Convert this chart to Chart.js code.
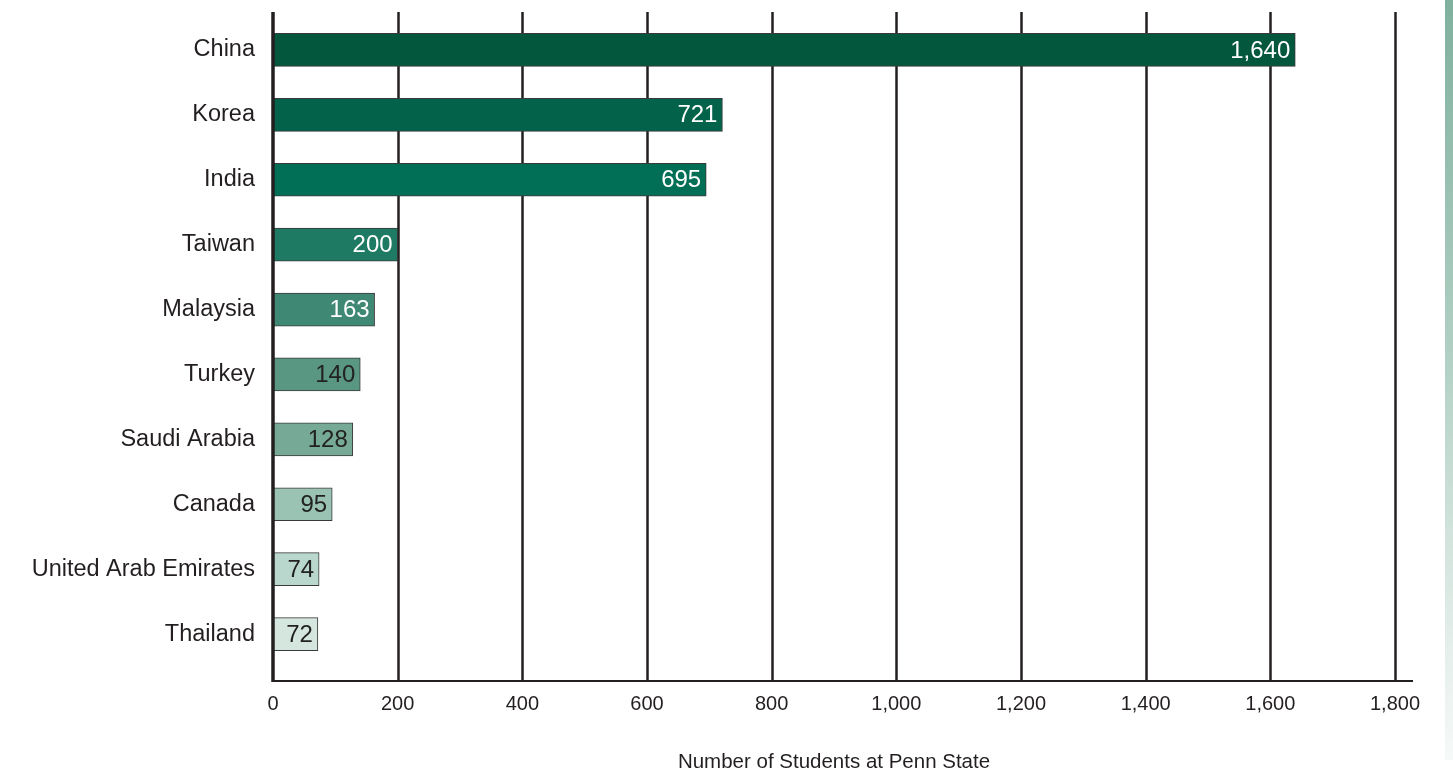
<!DOCTYPE html>
<html>
<head>
<meta charset="utf-8">
<script src="https://cdn.jsdelivr.net/npm/chart.js@4/dist/chart.umd.min.js"></script>
<style>
  html, body { margin: 0; padding: 0; background: #ffffff; overflow: hidden; }
  #wrap { position: relative; width: 1453px; height: 770px; }
  #strip { position: absolute; left: 1445px; top: 0; width: 8px; height: 760px;
           background: linear-gradient(to bottom, #7fb09e 0%, #a9cbbd 40%, #e4eeea 85%, #f6f9f8 100%); }
  canvas { position: absolute; left: 0; top: 0; }
</style>
</head>
<body>
<div id="wrap">
  <canvas id="c" width="1453" height="770"></canvas>
  <div id="strip"></div>
</div>
<script>
const categories = ["China", "Korea", "India", "Taiwan", "Malaysia", "Turkey", "Saudi Arabia", "Canada", "United Arab Emirates", "Thailand"];
const students = [1640, 721, 695, 200, 163, 140, 128, 95, 74, 72];
const barColors = ["#03573d", "#02624a", "#006f55", "#1e7a62", "#3e8874", "#5a9783", "#77a997", "#9bc3b4", "#b9d7cc", "#d5e6df"];
const labelColors = ["#ffffff", "#ffffff", "#ffffff", "#ffffff", "#ffffff", "#222222", "#222222", "#222222", "#222222", "#222222"];
const xTicks = [0, 200, 400, 600, 800, 1000, 1200, 1400, 1600, 1800];
const axisTitle = "Number of Students at Penn State";

const FONT = "'Liberation Sans', Arial, Helvetica, sans-serif";
const fmt = v => v.toLocaleString('en-US');

const gridPlugin = {
  id: 'gridPlugin',
  beforeDatasetsDraw(chart) {
    const ctx = chart.ctx;
    const xs = chart.scales.x;
    const top = 12, bottom = 681;
    ctx.save();
    ctx.strokeStyle = '#231f20';
    xTicks.forEach(v => {
      if (v === 0) return;
      const px = Math.round(xs.getPixelForValue(v)) + 0.5;
      ctx.lineWidth = 2.5;
      ctx.beginPath();
      ctx.moveTo(px, top);
      ctx.lineTo(px, bottom);
      ctx.stroke();
    });
    ctx.lineWidth = 2;
    ctx.beginPath();
    ctx.moveTo(xs.getPixelForValue(0), bottom);
    ctx.lineTo(xs.getPixelForValue(1800) + 18, bottom);
    ctx.stroke();
    ctx.restore();
  },
  afterDatasetsDraw(chart) {
    const ctx = chart.ctx;
    const xs = chart.scales.x;
    const meta = chart.getDatasetMeta(0);
    ctx.save();
    ctx.strokeStyle = '#231f20';
    ctx.lineWidth = 3.5;
    const x0 = xs.getPixelForValue(0);
    ctx.beginPath();
    ctx.moveTo(x0, 12);
    ctx.lineTo(x0, 682);
    ctx.stroke();
    ctx.font = "24px " + FONT;
    ctx.textAlign = 'right';
    ctx.textBaseline = 'middle';
    meta.data.forEach((bar, i) => {
      ctx.fillStyle = labelColors[i];
      ctx.fillText(fmt(students[i]), bar.x - 5, bar.y + 1);
    });
    ctx.restore();
  }
};

new Chart(document.getElementById('c'), {
  type: 'bar',
  data: {
    labels: categories,
    datasets: [{
      data: students,
      backgroundColor: barColors,
      borderColor: '#3a3a3a',
      borderWidth: 1,
      borderSkipped: false,
      barThickness: 33
    }]
  },
  options: {
    indexAxis: 'y',
    responsive: false,
    animation: false,
    devicePixelRatio: 1,
    layout: { padding: { top: 17.5, right: 58, bottom: 0, left: 0 } },
    plugins: { legend: { display: false }, tooltip: { enabled: false } },
    scales: {
      x: {
        type: 'linear',
        min: 0, max: 1800,
        afterBuildTicks: s => { s.ticks = xTicks.map(v => ({ value: v })); },
        afterFit: s => { s.height = 103.5; },
        grid: { display: false, drawTicks: false },
        border: { display: false },
        ticks: {
          padding: 26,
          color: '#231f20',
          font: { family: FONT, size: 20 },
          maxRotation: 0,
          callback: v => fmt(v)
        },
        title: {
          display: true,
          text: axisTitle,
          color: '#231f20',
          font: { family: FONT, size: 20.5, lineHeight: 1.0 },
          padding: { top: 0, bottom: -3 }
        }
      },
      y: {
        afterFit: s => { s.width = 273; s.paddingTop = 0; s.paddingBottom = 0; },
        grid: { display: false, drawTicks: false },
        border: { display: false },
        ticks: {
          padding: 18,
          color: '#231f20',
          font: { family: FONT, size: 23.5 }
        }
      }
    }
  },
  plugins: [gridPlugin]
});
</script>
</body>
</html>
